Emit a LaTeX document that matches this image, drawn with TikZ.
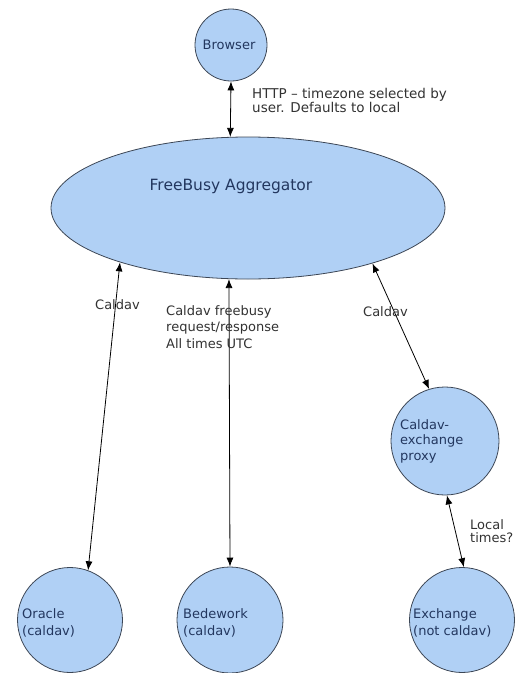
\documentclass[tikz,border=0pt]{standalone}
\usepackage{fontspec}
\setmainfont{DejaVu Sans}
\usetikzlibrary{arrows.meta,shapes.geometric}
\definecolor{nodefill}{RGB}{176,208,245}
\definecolor{nodeline}{RGB}{60,70,85}
\definecolor{nodetext}{RGB}{35,55,95}
\definecolor{labeltext}{RGB}{50,50,50}
\tikzset{
  circ/.style={circle,draw=nodeline,fill=nodefill,line width=0.8pt,inner sep=0pt},
  ntext/.style={text=nodetext,align=left,inner sep=0pt,font=\fontsize{13}{16.5}\selectfont},
  ltext/.style={text=labeltext,align=left,inner sep=0pt,anchor=west,font=\fontsize{13}{16.5}\selectfont},
  conn/.style={line width=0.8pt,{Latex[length=9pt,width=7pt]}-{Latex[length=9pt,width=7pt]}},
}
\begin{document}
\begin{tikzpicture}[x=1pt,y=-1pt]
\useasboundingbox (0,0) rectangle (515,673);
% nodes
\node[circ,minimum size=72pt] (browser) at (231,45) {};
\node[ntext,anchor=center] (browsert) at (229,45) {Browser};
\node[ellipse,draw=nodeline,fill=nodefill,line width=0.8pt,minimum width=394pt,minimum height=142pt,inner sep=0pt] (agg) at (248,208) {};
\node[ntext,anchor=center,font=\fontsize{15.5}{18}\selectfont] (aggt) at (231,186) {FreeBusy Aggregator};
\node[circ,minimum size=108pt] (proxy) at (445,441) {};
\node[ntext,anchor=west,font=\fontsize{13}{15.5}\selectfont] (proxyt) at (400,441) {Caldav-\\exchange\\proxy};
\node[circ,minimum size=105pt] (oracle) at (70,620) {};
\node[ntext,anchor=west] (oraclet) at (22,623) {Oracle\\(caldav)};
\node[circ,minimum size=106pt] (bede) at (230,620) {};
\node[ntext,anchor=west] (bedet) at (183,623) {Bedework\\(caldav)};
\node[circ,minimum size=105pt] (exch) at (462,620) {};
\node[ntext,anchor=west] (excht) at (413,623) {Exchange\\(not caldav)};
% connectors
\draw[conn] (browser.270) -- (agg.104.3);
\draw[conn] (agg.203.6) -- (oracle.70);
\draw[conn] (agg.255.7) -- (bede.90);
\draw[conn] (agg.336.4) -- (proxy.107.5);
\draw[conn] (proxy.272) -- (exch.88);
% labels
\node[ltext,font=\fontsize{13.5}{14}\selectfont] (httpl) at (252,100) {HTTP -- timezone selected by\\user. Defaults to local};
\node[ltext] (cal1) at (95,305) {Caldav};
\node[ltext] (cal2) at (166,327) {Caldav freebusy\\request/response\\All times UTC};
\node[ltext] (cal3) at (363,312) {Caldav};
\node[ltext,font=\fontsize{13}{13}\selectfont] (local) at (470,531) {Local\\times?};
\end{tikzpicture}
\end{document}
